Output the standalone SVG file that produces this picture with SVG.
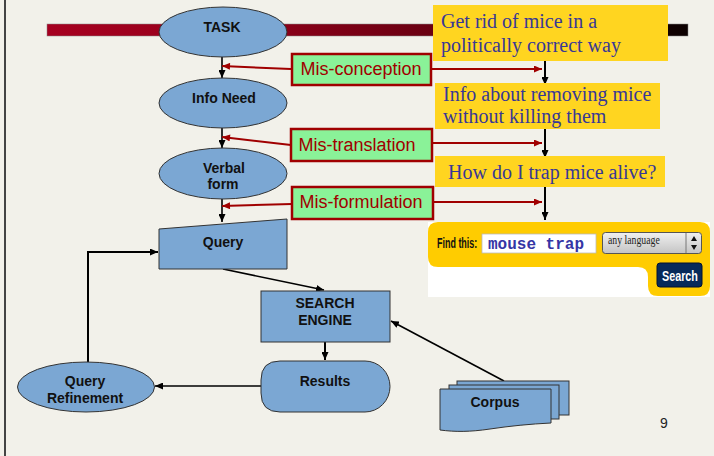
<svg xmlns="http://www.w3.org/2000/svg" width="714" height="456" viewBox="0 0 714 456">
<defs>
<linearGradient id="bar" x1="0" y1="0" x2="1" y2="0">
<stop offset="0" stop-color="#a60020"/>
<stop offset="0.25" stop-color="#98001c"/>
<stop offset="0.6" stop-color="#6a0012"/>
<stop offset="0.93" stop-color="#180000"/>
<stop offset="1" stop-color="#0c0000"/>
</linearGradient>
<linearGradient id="sel" x1="0" y1="0" x2="0" y2="1">
<stop offset="0" stop-color="#f0f0f0"/>
<stop offset="1" stop-color="#c4c4c4"/>
</linearGradient>
<marker id="ab" viewBox="0 0 8 7" refX="8" refY="3.5" markerWidth="8" markerHeight="7" markerUnits="userSpaceOnUse" orient="auto">
<path d="M0,0 L8,3.5 L0,7 z" fill="#000"/>
</marker>
<marker id="ar" viewBox="0 0 8 7" refX="8" refY="3.5" markerWidth="9" markerHeight="7" markerUnits="userSpaceOnUse" orient="auto">
<path d="M0,0 L8,3.5 L0,7 z" fill="#a00000"/>
</marker>
</defs>
<style>
.node{fill:#7ba7d3;stroke:#333;stroke-width:1}
.nt{font-family:"Liberation Sans",Arial,sans-serif;font-weight:bold;font-size:14px;fill:#111;text-anchor:middle}
.mis{fill:#8af298;stroke:#a00000;stroke-width:2.5}
.mt{font-family:"Liberation Sans",Arial,sans-serif;font-size:18px;fill:#a00000;text-anchor:middle}
.yb{fill:#ffd520}
.yt{font-family:"Liberation Serif","Times New Roman",serif;font-size:20px;fill:#383896}
.blk{stroke:#000;stroke-width:1.6;fill:none;marker-end:url(#ab)}
.blk2{stroke:#000;stroke-width:2;fill:none;marker-end:url(#ab)}
.red{stroke:#a00000;stroke-width:2;fill:none;marker-end:url(#ar)}
</style>
<rect x="0" y="0" width="714" height="456" fill="#f2f1ea"/>
<line x1="5" y1="0" x2="5" y2="456" stroke="#444" stroke-width="2"/>
<rect x="47" y="24" width="641" height="12" fill="url(#bar)" stroke="#888" stroke-width="0.5"/>

<g id="connectors">
<line class="blk" x1="222" y1="57" x2="222" y2="78"/>
<line class="blk" x1="222" y1="128" x2="222" y2="148"/>
<line class="blk" x1="222" y1="199" x2="222" y2="222"/>
<line class="blk" x1="223" y1="269" x2="324" y2="290"/>
<line class="blk2" x1="325" y1="342" x2="325" y2="360"/>
<line class="blk" x1="261" y1="386" x2="155" y2="386"/>
<polyline class="blk2" points="88,362 88,252 158,252"/>
<line class="blk" x1="504" y1="381" x2="391" y2="321"/>
<line class="blk2" x1="545" y1="61" x2="545" y2="85"/>
<line class="blk2" x1="545" y1="129" x2="545" y2="158"/>
<line class="blk2" x1="545" y1="187" x2="545" y2="220"/>
<line class="red" x1="291" y1="69" x2="222" y2="66"/>
<line class="red" x1="431" y1="69" x2="542" y2="69"/>
<line class="red" x1="291" y1="145" x2="222" y2="137"/>
<line class="red" x1="432" y1="143" x2="542" y2="143"/>
<line class="red" x1="292" y1="204" x2="222" y2="206"/>
<line class="red" x1="433" y1="202" x2="542" y2="202"/>
</g>

<g id="task">
<ellipse class="node" cx="223" cy="32" rx="64" ry="25"/>
<text class="nt" x="222" y="32">TASK</text>
</g>
<g id="info-need">
<ellipse class="node" cx="223" cy="103" rx="64" ry="25"/>
<text class="nt" x="224" y="103">Info Need</text>
</g>
<g id="verbal-form">
<ellipse class="node" cx="223" cy="173.5" rx="64" ry="25.5"/>
<text class="nt" x="224" y="173">Verbal</text>
<text class="nt" x="223" y="189">form</text>
</g>
<g id="query">
<polygon class="node" points="159,229 287,219 287,269 159,269"/>
<text class="nt" x="223" y="247">Query</text>
</g>
<g id="search-engine">
<rect class="node" x="261" y="291" width="129" height="51"/>
<text class="nt" x="325" y="308">SEARCH</text>
<text class="nt" x="325" y="325">ENGINE</text>
</g>
<g id="results">
<path class="node" d="M280,361 H365 A25 25.5 0 0 1 365,412 H280 Q261,412 261,393 V380 Q261,361 280,361 Z"/>
<text class="nt" x="325" y="386">Results</text>
</g>
<g id="query-refinement">
<ellipse class="node" cx="86" cy="387" rx="68.5" ry="25"/>
<text class="nt" x="85" y="386">Query</text>
<text class="nt" x="85" y="403">Refinement</text>
</g>
<g id="corpus">
<rect class="node" x="457" y="381" width="112" height="34"/>
<rect class="node" x="449" y="385" width="110" height="34"/>
<path class="node" d="M440,389 H551 V423 C530,424 510,426 490,429 C470,432 455,432 440,430 Z"/>
<text class="nt" x="495" y="407">Corpus</text>
</g>

<g id="mis-conception">
<rect class="mis" x="292" y="54" width="139" height="31"/>
<text class="mt" x="361" y="75">Mis-conception</text>
</g>
<g id="mis-translation">
<rect class="mis" x="291" y="129" width="141" height="32"/>
<text class="mt" x="357" y="151">Mis-translation</text>
</g>
<g id="mis-formulation">
<rect class="mis" x="292" y="187" width="141" height="32"/>
<text class="mt" x="361" y="208">Mis-formulation</text>
</g>

<g id="goal">
<rect class="yb" x="433" y="5" width="235" height="56"/>
<text class="yt" x="441" y="28">Get rid of mice in a</text>
<text class="yt" x="441" y="52">politically correct way</text>
</g>
<g id="info">
<rect class="yb" x="435" y="83" width="225" height="46"/>
<text class="yt" x="443" y="101">Info about removing mice</text>
<text class="yt" x="443" y="123">without killing them</text>
</g>
<g id="question">
<rect class="yb" x="435" y="156" width="230" height="31"/>
<text class="yt" x="448" y="179">How do I trap mice alive?</text>
</g>

<g id="search-widget">
<rect x="428" y="222" width="282" height="75" fill="#ffffff"/>
<path d="M438,222 H700 Q710,222 710,232 V286 Q710,296 700,296 H658 Q648,296 648,286 V277 Q648,267 638,267 H438 Q428,267 428,257 V232 Q428,222 438,222 Z" fill="#ffcc00"/>
<text transform="translate(437,248) scale(0.64,1)" x="0" y="0" font-family="'Liberation Sans',Arial,sans-serif" font-weight="bold" font-size="14" fill="#111">Find this:</text>
<rect x="482" y="234" width="114" height="19" fill="#fff" stroke="#bbb" stroke-width="0.8"/>
<text x="488" y="249" font-family="'Liberation Mono','Courier New',monospace" font-weight="bold" font-size="16" fill="#3535a5">mouse trap</text>
<rect x="602.5" y="232.5" width="99" height="21" rx="3" fill="url(#sel)" stroke="#555" stroke-width="1"/>
<line x1="686" y1="233" x2="686" y2="253" stroke="#777" stroke-width="1"/>
<text transform="translate(608,244) scale(0.85,1)" x="0" y="0" font-family="'Liberation Serif','Times New Roman',serif" font-size="11.5" fill="#222">any language</text>
<path d="M691,241 L694,236 L697,241 Z M691,245 L694,250 L697,245 Z" fill="#111"/>
<rect x="657" y="263" width="45" height="24" rx="3" fill="#062a5a" stroke="#001030" stroke-width="1"/>
<text transform="translate(662,281) scale(0.77,1)" x="0" y="0" font-family="'Liberation Sans',Arial,sans-serif" font-weight="bold" font-size="14" fill="#fff">Search</text>
</g>

<text x="664" y="428" font-family="'Liberation Sans',Arial,sans-serif" font-size="14" fill="#222" text-anchor="middle">9</text>
</svg>
